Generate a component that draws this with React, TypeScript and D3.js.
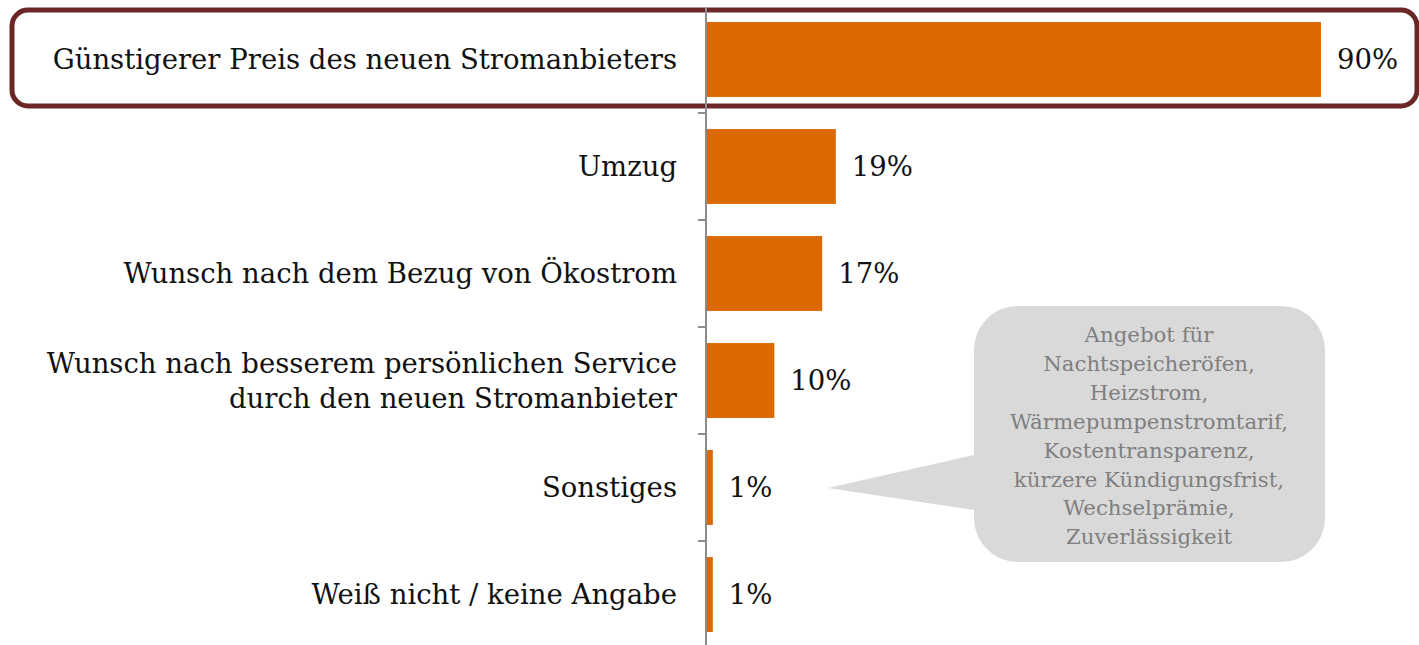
import React from "react";
import * as d3 from "d3";

// categories and shares (in %)
const categories = [
  "Günstigerer Preis des neuen Stromanbieters",
  "Umzug",
  "Wunsch nach dem Bezug von Ökostrom",
  "Wunsch nach besserem persönlichen Service|durch den neuen Stromanbieter",
  "Sonstiges",
  "Weiß nicht / keine Angabe",
];
const values = [90, 19, 17, 10, 1, 1];
const calloutLines = [
  "Angebot für",
  "Nachtspeicheröfen,",
  "Heizstrom,",
  "Wärmepumpenstromtarif,",
  "Kostentransparenz,",
  "kürzere Kündigungsfrist,",
  "Wechselprämie,",
  "Zuverlässigkeit",
];

const W = 1419;
const H = 645;
const FONT = "'DejaVu Serif', Georgia, serif";

export default function App() {
  const x = d3.scaleLinear().domain([0, 90]).range([706, 1321]);
  const y = d3
    .scaleBand()
    .domain(categories)
    .range([6, 648])
    .paddingInner(0.3)
    .paddingOuter(0.15);
  const step = y.step();

  // tick marks at band boundaries
  const ticks = categories.slice(1).map((c) => (y(c) as number) - (step * y.paddingInner()) / 2);

  // callout bubble
  const bx = 974, by = 306, bw = 351, bh = 256, br = 44;
  const tip: [number, number] = [828, 488];

  return (
    <svg width={W} height={H} style={{ position: "absolute", left: 0, top: 0 }}>
      <rect width={W} height={H} fill="#fff" />
      {/* highlight frame around first row */}
      <rect x={12} y={10} width={1405} height={96} rx={16} ry={16} fill="none" stroke="#6b2725" strokeWidth={5} />

      {categories.map((c, i) => {
        const yc = (y(c) as number) + y.bandwidth() / 2;
        const lines = c.split("|");
        return (
          <g key={c}>
            <rect x={x(0)} y={y(c)} width={x(values[i]) - x(0)} height={y.bandwidth()} fill="#dc6900" />
            <text
              x={677}
              y={yc}
              textAnchor="end"
              fontFamily={FONT}
              fontSize={27.5}
              fill="#111"
            >
              {lines.map((l, j) => (
                <tspan key={j} x={677} dy={j === 0 ? `${0.35 - (lines.length - 1) * 0.635}em` : "1.27em"}>
                  {l}
                </tspan>
              ))}
            </text>
            <text x={x(values[i]) + 16} y={yc} dy="0.35em" fontFamily={FONT} fontSize={27.5} fill="#111">
              {values[i]}%
            </text>
          </g>
        );
      })}

      {/* axis */}
      <line x1={706} x2={706} y1={8} y2={H} stroke="#8c8c8c" strokeWidth={2} />
      {ticks.map((t, i) => (
        <line key={i} x1={698} x2={706} y1={t} y2={t} stroke="#8c8c8c" strokeWidth={2} />
      ))}

      {/* callout */}
      <path
        d={`M${bx + br},${by} H${bx + bw - br} A${br},${br} 0 0 1 ${bx + bw},${by + br} V${by + bh - br} A${br},${br} 0 0 1 ${bx + bw - br},${by + bh} H${bx + br} A${br},${br} 0 0 1 ${bx},${by + bh - br} V510 L${tip[0]},${tip[1]} L${bx},455 V${by + br} A${br},${br} 0 0 1 ${bx + br},${by} Z`}
        fill="#d9d9d9"
      />
      <text textAnchor="middle" fontFamily={FONT} fontSize={21.3} fill="#7f7f7f">
        {calloutLines.map((l, i) => (
          <tspan key={i} x={1149} y={342 + i * 28.9}>
            {l}
          </tspan>
        ))}
      </text>
    </svg>
  );
}
